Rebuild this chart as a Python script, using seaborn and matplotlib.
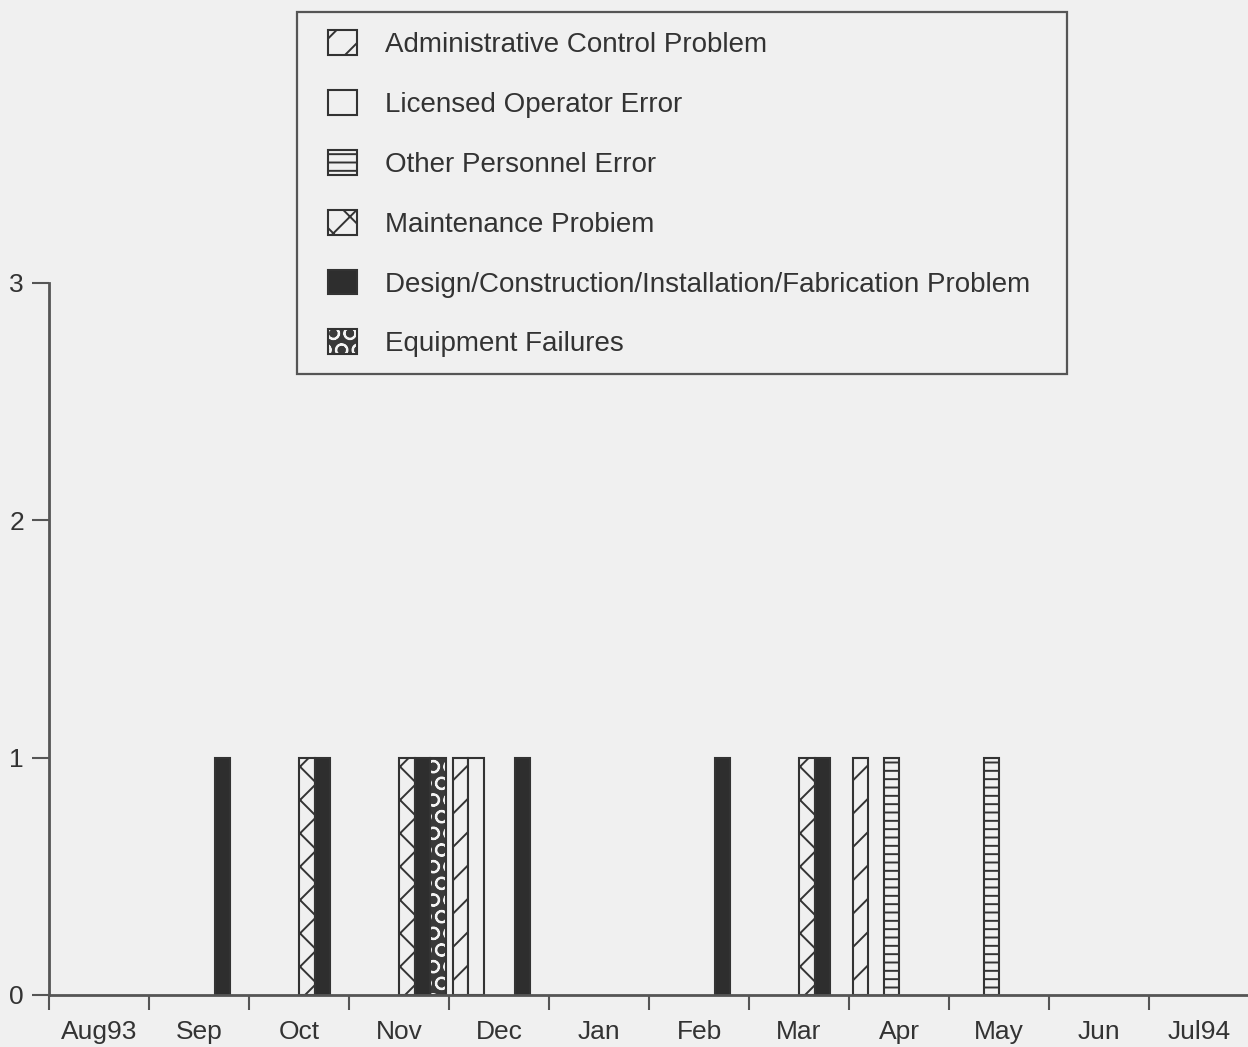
import numpy as np
import pandas as pd
import matplotlib
matplotlib.use("Agg")
import matplotlib.pyplot as plt
import matplotlib.colors as mcolors
from matplotlib.patches import Patch, Rectangle
import seaborn as sns

months = ["Aug93", "Sep", "Oct", "Nov", "Dec", "Jan", "Feb", "Mar", "Apr", "May", "Jun", "Jul94"]
causes = [
    "Administrative Control Problem",
    "Licensed Operator Error",
    "Other Personnel Error",
    "Maintenance Probiem",
    "Design/Construction/Installation/Fabrication Problem",
    "Equipment Failures",
]
admin_control = [0, 0, 0, 0, 1, 0, 0, 0, 1, 0, 0, 0]
licensed_operator = [0, 0, 0, 0, 1, 0, 0, 0, 0, 0, 0, 0]
other_personnel = [0, 0, 0, 0, 0, 0, 0, 0, 1, 1, 0, 0]
maintenance = [0, 0, 1, 1, 0, 0, 0, 1, 0, 0, 0, 0]
design_construction = [0, 1, 1, 1, 1, 0, 1, 1, 0, 0, 0, 0]
equipment_failures = [0, 0, 0, 1, 0, 0, 0, 0, 0, 0, 0, 0]
y_ticks = [0, 1, 2, 3]

series = [admin_control, licensed_operator, other_personnel, maintenance,
          design_construction, equipment_failures]

BG = "#f0f0f0"
INK = "#333333"
DARK = "#2e2e2e"

face = {causes[0]: BG, causes[1]: BG, causes[2]: BG, causes[3]: BG,
        causes[4]: DARK, causes[5]: "#3a3a3a"}
hatches = {causes[0]: "/", causes[1]: "", causes[2]: "--", causes[3]: "x",
           causes[4]: "", causes[5]: "O"}
hatch_col = {causes[5]: "#f4f4f4"}

rows = []
for c, vals in zip(causes, series):
    for m, v in zip(months, vals):
        rows.append({"month": m, "cause": c, "count": v})
df = pd.DataFrame(rows)

sns.set_theme(style="white")
plt.rcParams["font.family"] = ["Liberation Sans", "DejaVu Sans"]
plt.rcParams["hatch.linewidth"] = 1.4

W, H = 1248, 1047
fig = plt.figure(figsize=(W / 100, H / 100), dpi=100, facecolor=BG)
ax = fig.add_axes([49 / W, 52 / H, 1200 / W, 712 / H])
ax.set_facecolor(BG)

sns.barplot(data=df, x="month", y="count", hue="cause", order=months,
            hue_order=causes, palette=face, saturation=1, width=0.93,
            dodge=True, ax=ax, legend=False, edgecolor=INK, linewidth=1.5,
            errorbar=None)

for cont, c in zip(ax.containers, causes):
    for p in cont.patches:
        p.set_hatch(hatches[c])
        p.set_edgecolor(INK)
        if c in hatch_col:
            p._hatch_color = mcolors.to_rgba(hatch_col[c])
        if p.get_height() == 0:
            p.set_visible(False)

ax.set_xlim(-0.5, len(months) - 0.5)
ax.set_ylim(0, 3)
ax.set_yticks(y_ticks)
ax.set_yticklabels([str(t) for t in y_ticks])
ax.set_xticks(range(len(months)))
ax.set_xticklabels(months)
ax.set_xticks(np.arange(len(months)) - 0.5, minor=True)
ax.tick_params(axis="x", which="major", length=0, pad=18, labelsize=19, colors=INK)
ax.tick_params(axis="x", which="minor", length=11, width=1.5, color="#555555", direction="out", bottom=True)
ax.tick_params(axis="y", which="major", length=12, width=1.5, pad=6, labelsize=19,
               colors=INK, color="#555555", direction="out", left=True)
ax.set_xlabel("")
ax.set_ylabel("")
for s in ["top", "right"]:
    ax.spines[s].set_visible(False)
for s in ["left", "bottom"]:
    ax.spines[s].set_color("#555555")
    ax.spines[s].set_linewidth(2)

# legend box (frame drawn separately to match the original padding)
fig.patches.append(Rectangle((297 / W, 1 - 374 / H), (1067 - 297) / W, (374 - 12) / H,
                             transform=fig.transFigure, facecolor=BG,
                             edgecolor="#555555", linewidth=1.6, zorder=0))

handles = []
for c in causes:
    h = Patch(facecolor=face[c], edgecolor=INK, hatch=hatches[c], linewidth=1.5, label=c)
    if c in hatch_col:
        h._hatch_color = mcolors.to_rgba(hatch_col[c])
    handles.append(h)

leg = fig.legend(handles=handles, loc="upper left",
                 bbox_to_anchor=(328 / W, 1 - 30 / H),
                 bbox_transform=fig.transFigure, borderaxespad=0,
                 fontsize=20, frameon=False,
                 handlelength=1.05, handleheight=1.0, handletextpad=1.0,
                 labelspacing=1.15, borderpad=0.0)
for t in leg.get_texts():
    t.set_color(INK)

fig.savefig("out.png", dpi=100, facecolor=BG)
